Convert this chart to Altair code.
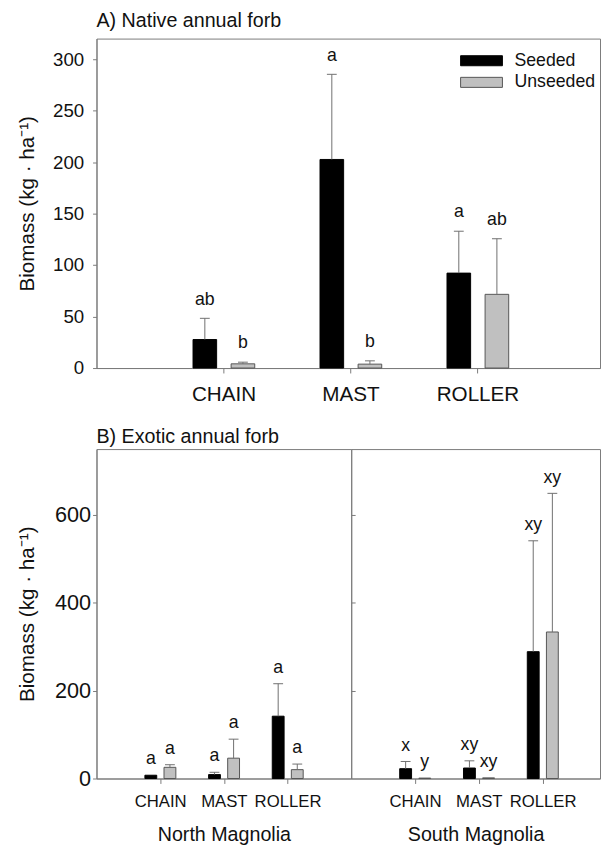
import altair as alt
import pandas as pd

categories = ["CHAIN", "MAST", "ROLLER"]
treatments = ["Seeded", "Unseeded"]

# Panel A: native annual forb (kg/ha): bar means, upper end of error bar, letters
a_seeded_mean = [27.7, 202.6, 92.2]
a_seeded_upper = [48.3, 285.3, 132.9]
a_seeded_letters = ["ab", "a", "a"]
a_unseeded_mean = [4.1, 3.8, 71.6]
a_unseeded_upper = [5.7, 7.0, 125.6]
a_unseeded_letters = ["b", "b", "ab"]

# Panel B: exotic annual forb, North Magnolia
bn_seeded_mean = [7.5, 9.0, 141.9]
bn_seeded_upper = [7.5, 14.2, 215.8]
bn_seeded_letters = ["a", "a", "a"]
bn_unseeded_mean = [25.5, 46.3, 20.2]
bn_unseeded_upper = [31.4, 89.6, 32.9]
bn_unseeded_letters = ["a", "a", "a"]

# Panel B: exotic annual forb, South Magnolia
bs_seeded_mean = [22.4, 23.9, 288.8]
bs_seeded_upper = [38.8, 40.3, 541.2]
bs_seeded_letters = ["x", "xy", "xy"]
bs_unseeded_mean = [1.0, 1.5, 333.6]
bs_unseeded_upper = [1.0, 1.5, 649.2]
bs_unseeded_letters = ["y", "xy", "xy"]

site_titles = ["North Magnolia", "South Magnolia"]
y_title = "Biomass (kg \u00b7 ha\u207b\u00b9)"

FONT = "Liberation Sans"
AX = "#7a7a7a"
ERR = "#6e6e6e"


def table(sm, su, sl, um, uu, ul):
    rows = []
    for i, c in enumerate(categories):
        rows.append(dict(idx=i + 1, cat=c, treatment="Seeded", mean=sm[i], upper=su[i], letter=sl[i]))
        rows.append(dict(idx=i + 1, cat=c, treatment="Unseeded", mean=um[i], upper=uu[i], letter=ul[i]))
    return pd.DataFrame(rows)


df_a = table(a_seeded_mean, a_seeded_upper, a_seeded_letters,
             a_unseeded_mean, a_unseeded_upper, a_unseeded_letters)
df_bn = table(bn_seeded_mean, bn_seeded_upper, bn_seeded_letters,
              bn_unseeded_mean, bn_unseeded_upper, bn_unseeded_letters)
df_bs = table(bs_seeded_mean, bs_seeded_upper, bs_seeded_letters,
              bs_unseeded_mean, bs_unseeded_upper, bs_unseeded_letters)

label_expr = "[''," + ",".join("'%s'" % c for c in categories) + "][datum.value]"

fill_scale = alt.Scale(domain=treatments, range=["#000000", "#c0c0c0"])
stroke_scale = alt.Scale(domain=treatments, range=["#000000", "#555555"])


def panel(df, width, height, xmax, ymax, yaxis, xaxis, letter_dy, legend, extra=None):
    xs = alt.Scale(domain=[0, xmax], nice=False, zero=False)
    ys = alt.Scale(domain=[0, ymax], nice=False)
    base = alt.Chart(df).transform_calculate(
        pos="datum.idx + (datum.treatment == 'Seeded' ? -0.147 : 0.153)"
    ).transform_calculate(
        left="datum.pos - 0.093", right="datum.pos + 0.093", zero="0"
    )
    bars = base.mark_rect(strokeWidth=1).encode(
        x=alt.X("left:Q", scale=xs, axis=xaxis),
        x2="right:Q",
        y=alt.Y("mean:Q", scale=ys, axis=yaxis),
        y2="zero:Q",
        fill=alt.Fill("treatment:N", scale=fill_scale, legend=legend),
        stroke=alt.Stroke("treatment:N", scale=stroke_scale, legend=legend),
    )
    errs = base.transform_filter("datum.upper > datum.mean")
    rules = errs.mark_rule(color=ERR, strokeWidth=1).encode(
        x=alt.X("pos:Q", scale=xs, axis=xaxis),
        y=alt.Y("mean:Q", scale=ys, axis=yaxis),
        y2="upper:Q",
    )
    caps = errs.mark_point(shape="M-1,0L1,0", size=100, filled=False, color=ERR,
                           strokeWidth=1, opacity=1).encode(
        x=alt.X("pos:Q", scale=xs, axis=xaxis),
        y=alt.Y("upper:Q", scale=ys, axis=yaxis),
    )
    text = base.mark_text(baseline="alphabetic", dy=letter_dy, fontSize=18,
                          font=FONT, color="#111111").encode(
        x=alt.X("pos:Q", scale=xs, axis=xaxis),
        y=alt.Y("upper:Q", scale=ys, axis=yaxis),
        text="letter:N",
    )
    ch = alt.layer(bars, rules, caps, text)
    if extra is not None:
        side = base.mark_rule(opacity=0).encode(
            x=alt.X("pos:Q", scale=xs, axis=xaxis),
            y=alt.Y("upper:Q", scale=ys, axis=extra),
        )
        ch = alt.layer(ch, side).resolve_axis(y="independent")
    return ch.properties(width=width, height=height)


def xaxis(fs, pad, title=None, title_y=None):
    kw = dict(values=[1, 2, 3], labelExpr=label_expr, grid=False, tickSize=5,
              labelPadding=pad, labelFontSize=fs, labelFont=FONT, labelColor="#111111",
              domainColor=AX, tickColor=AX, labelAngle=0)
    if title is None:
        kw["title"] = None
    else:
        kw.update(title=title, titleFontSize=20, titleFont=FONT, titleFontWeight="normal",
                  titleColor="#111111", titleBaseline="alphabetic", titleY=title_y)
    return alt.Axis(**kw)


def yaxis(fs, pad, values):
    return alt.Axis(values=values, grid=False, tickSize=4, labelPadding=pad,
                    labelFontSize=fs, labelFont=FONT, labelColor="#111111",
                    domainColor=AX, tickColor=AX, title=y_title, titleFontSize=21,
                    titleFont=FONT, titleFontWeight="normal", titleColor="#111111",
                    titleBaseline="alphabetic", titleX=-64)


legend = alt.Legend(orient="none", legendX=380, legendY=11, title=None,
                    symbolType="M-2,-0.48L2,-0.48L2,0.48L-2,0.48Z", symbolSize=452,
                    symbolStrokeWidth=1, labelFontSize=18, labelFont=FONT,
                    labelColor="#111111", labelOffset=22, rowPadding=1)

chart_a = panel(df_a, 512, 335, 3.965, 320, yaxis(19, 9, [0, 50, 100, 150, 200, 250, 300]),
                xaxis(21, 11.5), -14, legend).properties(
    title=alt.TitleParams("A) Native annual forb", anchor="start", frame="group",
                          fontSize=20, font=FONT, fontWeight="normal", color="#111111",
                          baseline="alphabetic", offset=-8))

right_ticks = alt.Axis(orient="right", values=[200, 400, 600], labels=False, ticks=True,
                       tickSize=4, domain=False, grid=False, title=None, tickColor=AX)

chart_bn = panel(df_bn, 259, 335, 4, 750, yaxis(22, 2, [0, 200, 400, 600]),
                 xaxis(17, 10, site_titles[0], 62.6), -11, None, extra=right_ticks).properties(
    title=alt.TitleParams("B) Exotic annual forb", anchor="start", frame="group",
                          fontSize=20, font=FONT, fontWeight="normal", color="#111111",
                          baseline="alphabetic", offset=-14))

chart_bs = panel(df_bs, 253, 335, 3.9, 750, None,
                 xaxis(17, 10, site_titles[1], 62.6), -11, None)

row_b = alt.hconcat(chart_bn, chart_bs, spacing=0, bounds="flush")

chart = alt.vconcat(chart_a, row_b, spacing=82.4, bounds="flush").properties(
    padding={"left": 8, "top": -5, "right": 0, "bottom": 0}
).configure(font=FONT).configure_view(stroke=AX, strokeWidth=1)

chart.save("out.html", embed_options={"renderer": "svg", "actions": False})
